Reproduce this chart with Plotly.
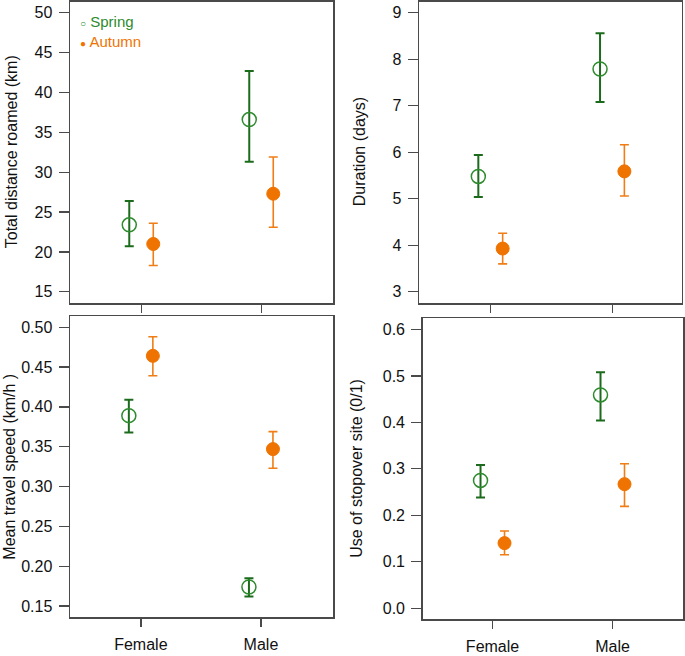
import plotly.graph_objects as go

# ---------------- data ----------------
sex = ["Female", "Male"]
sex_pos = [1, 2]

# Total distance roamed (km)
dist_spring = [23.4, 36.6]
dist_spring_lo = [20.7, 31.3]
dist_spring_hi = [26.4, 42.7]
dist_autumn = [21.0, 27.3]
dist_autumn_lo = [18.3, 23.1]
dist_autumn_hi = [23.6, 31.9]

# Duration (days)
dur_spring = [5.48, 7.79]
dur_spring_lo = [5.04, 7.08]
dur_spring_hi = [5.94, 8.56]
dur_autumn = [3.93, 5.59]
dur_autumn_lo = [3.60, 5.06]
dur_autumn_hi = [4.26, 6.16]

# Mean travel speed (km/h)
spd_spring = [0.389, 0.174]
spd_spring_lo = [0.368, 0.162]
spd_spring_hi = [0.409, 0.185]
spd_autumn = [0.464, 0.347]
spd_autumn_lo = [0.439, 0.323]
spd_autumn_hi = [0.488, 0.369]

# Use of stopover site (0/1)
stop_spring = [0.275, 0.459]
stop_spring_lo = [0.238, 0.404]
stop_spring_hi = [0.308, 0.508]
stop_autumn = [0.140, 0.267]
stop_autumn_lo = [0.115, 0.219]
stop_autumn_hi = [0.166, 0.311]

panels = [
    ("Total distance roamed (km)", dist_spring, dist_spring_lo, dist_spring_hi,
     dist_autumn, dist_autumn_lo, dist_autumn_hi, [15, 20, 25, 30, 35, 40, 45, 50], "d"),
    ("Duration (days)", dur_spring, dur_spring_lo, dur_spring_hi,
     dur_autumn, dur_autumn_lo, dur_autumn_hi, [3, 4, 5, 6, 7, 8, 9], "d"),
    ("Mean travel speed (km/h )", spd_spring, spd_spring_lo, spd_spring_hi,
     spd_autumn, spd_autumn_lo, spd_autumn_hi, [0.15, 0.20, 0.25, 0.30, 0.35, 0.40, 0.45, 0.50], ".2f"),
    ("Use of stopover site (0/1)", stop_spring, stop_spring_lo, stop_spring_hi,
     stop_autumn, stop_autumn_lo, stop_autumn_hi, [0.0, 0.1, 0.2, 0.3, 0.4, 0.5, 0.6], ".1f"),
]

# ---------------- style / layout ----------------
W, H = 685, 656
GREEN_BAR = "#1c6b1c"
GREEN_MK = "#2e8b2e"
ORANGE = "#ef7300"
ORANGE_BAR = "#f07d15"
FRAME = "#4a4a4a"
TXT = "#111111"
FONT = "Liberation Sans, Arial, sans-serif"
OFFSET = 0.1

# pixel boxes (left, right, top, bottom)
boxes = [(70, 333, 1.5, 303), (419, 681.7, 1.5, 303),
         (70, 333, 316, 617.3), (422.7, 683.3, 318.3, 619.3)]
xranges = [[0.406, 2.598], [0.4125, 2.571], [0.41, 2.60], [0.418, 2.59]]
yranges = [[13.6, 51.4], [2.76, 9.24], [0.136, 0.514], [-0.024, 0.624]]
title_x = [11, 359, 10, 357]

fig = go.Figure()
layout = dict(
    width=W, height=H, margin=dict(l=0, r=0, t=0, b=0),
    paper_bgcolor="white", plot_bgcolor="white", showlegend=False,
    font=dict(family=FONT, size=16, color=TXT),
)
annotations = []

for i, (title, s, slo, shi, a, alo, ahi, yt, fmt) in enumerate(panels):
    n = i + 1
    xa = "x" if n == 1 else f"x{n}"
    ya = "y" if n == 1 else f"y{n}"
    left, right, top, bottom = boxes[i]
    xs_s = [p - OFFSET for p in sex_pos]
    xs_a = [p + OFFSET for p in sex_pos]
    fig.add_trace(go.Scatter(
        x=xs_s, y=s, mode="markers", xaxis=xa, yaxis=ya, name="Spring",
        marker=dict(symbol="circle-open", size=14, color=GREEN_MK, line=dict(width=1.5, color=GREEN_MK)),
        error_y=dict(type="data", symmetric=False,
                     array=[h - m for h, m in zip(shi, s)],
                     arrayminus=[m - l for m, l in zip(s, slo)],
                     color=GREEN_BAR, thickness=2, width=4.5),
    ))
    fig.add_trace(go.Scatter(
        x=xs_a, y=a, mode="markers", xaxis=xa, yaxis=ya, name="Autumn",
        marker=dict(symbol="circle", size=13, color=ORANGE, line=dict(width=1, color=ORANGE)),
        error_y=dict(type="data", symmetric=False,
                     array=[h - m for h, m in zip(ahi, a)],
                     arrayminus=[m - l for m, l in zip(a, alo)],
                     color=ORANGE_BAR, thickness=1.6, width=4.5),
    ))
    key_x = "xaxis" if n == 1 else f"xaxis{n}"
    key_y = "yaxis" if n == 1 else f"yaxis{n}"
    layout[key_x] = dict(
        domain=[left / W, right / W], range=xranges[i], anchor=ya,
        tickmode="array", tickvals=sex_pos, ticktext=sex,
        showticklabels=(n >= 3), ticks="outside", ticklen=8, tickwidth=1.3, tickcolor=FRAME,
        ticklabelstandoff=4,
        showline=True, linecolor=FRAME, linewidth=1.5, mirror=True,
        showgrid=False, zeroline=False, tickfont=dict(size=16, color=TXT),
    )
    layout[key_y] = dict(
        domain=[1 - bottom / H, 1 - top / H], range=yranges[i], anchor=xa,
        tickmode="array", tickvals=yt, tickformat=fmt,
        ticks="outside", ticklen=10, tickwidth=1.3, tickcolor=FRAME,
        ticklabelstandoff=3,
        showline=True, linecolor=FRAME, linewidth=1.5, mirror=True,
        showgrid=False, zeroline=False, tickfont=dict(size=16, color=TXT),
    )
    annotations.append(dict(
        text=title, xref="paper", yref="paper", x=title_x[i] / W,
        y=1 - ((top + bottom) / 2) / H, textangle=-90, showarrow=False,
        xanchor="center", yanchor="middle", font=dict(size=16, color=TXT),
    ))

# legend (top-left panel)
annotations.append(dict(
    text="<span style='font-size:10px'>○</span> Spring", xref="paper", yref="paper",
    x=78 / W, y=1 - 21.5 / H, xanchor="left", yanchor="middle", showarrow=False,
    font=dict(size=15, color=GREEN_MK),
))
annotations.append(dict(
    text="<span style='font-size:10px'>●</span> Autumn", xref="paper", yref="paper",
    x=78 / W, y=1 - 41 / H, xanchor="left", yanchor="middle", showarrow=False,
    font=dict(size=15, color=ORANGE),
))
layout["annotations"] = annotations
fig.update_layout(**layout)
fig.write_html(
    "out.html",
    config={"displayModeBar": False, "staticPlot": True},
    post_script="document.body.style.margin='0';document.body.style.overflow='hidden';",
)
